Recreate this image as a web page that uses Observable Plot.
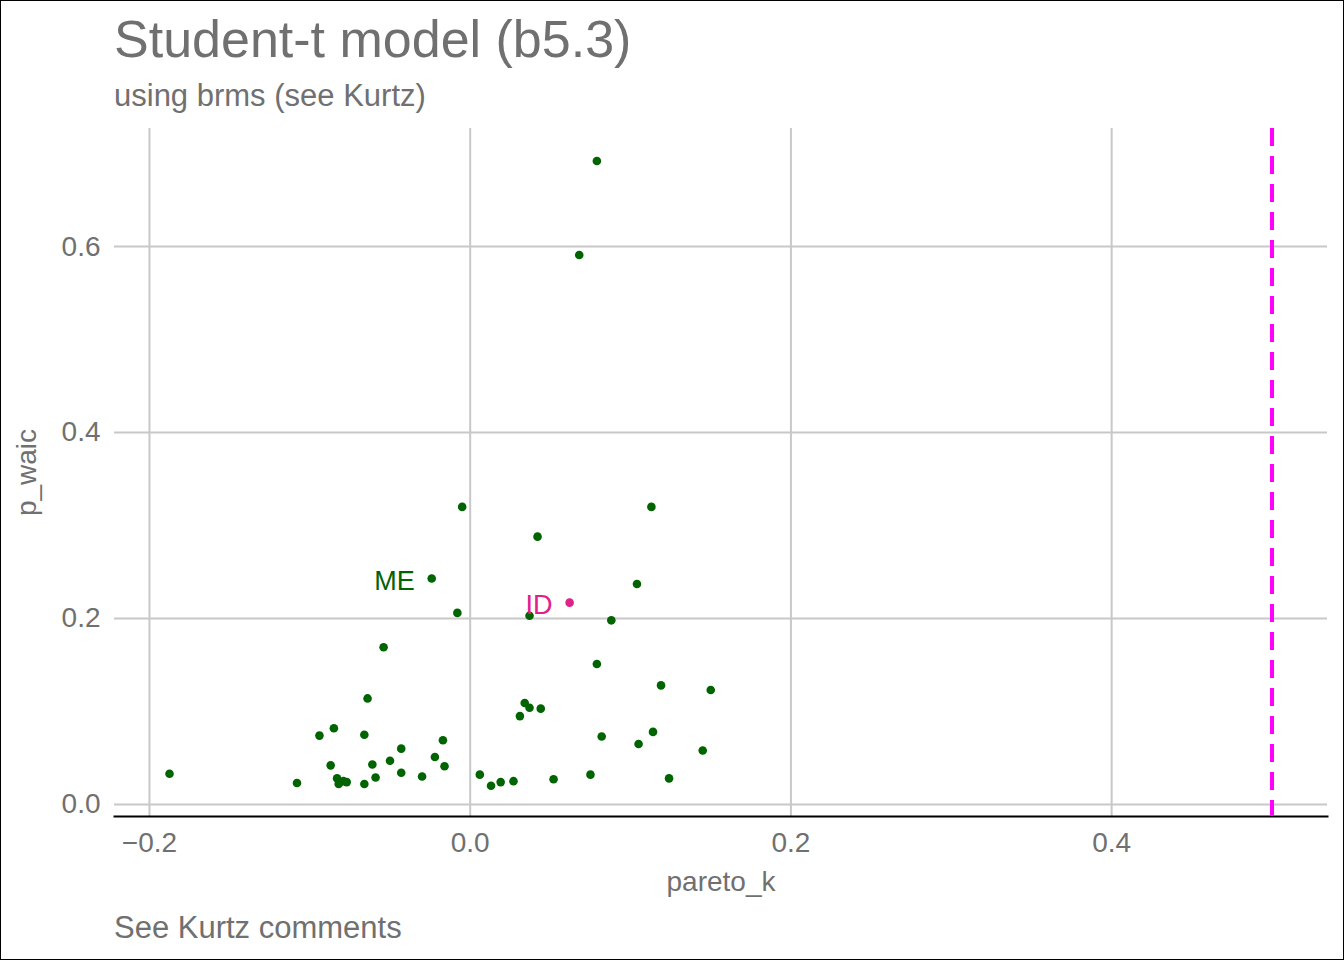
<!DOCTYPE html>
<html><head><meta charset="utf-8">
<script src="https://cdn.jsdelivr.net/npm/d3@7"></script>
<script src="https://cdn.jsdelivr.net/npm/@observablehq/plot@0.6"></script>
<style>
body{margin:0;background:#fff;font-family:"Liberation Sans",Arial,sans-serif;}
#wrap{width:1342px;height:958px;border:1px solid #000;position:relative;overflow:hidden;}
#title{position:absolute;left:113px;top:8px;font-size:52px;color:#707070;}
#sub{position:absolute;left:113px;top:77px;font-size:31px;color:#707070;}
#chart{position:absolute;left:0;top:120px;}
#cap{position:absolute;left:113px;top:909px;font-size:31px;color:#707070;}
</style></head><body>
<div id="wrap">
<div id="title">Student-t model (b5.3)</div>
<div id="sub">using brms (see Kurtz)</div>
<div id="chart"></div>
<div id="cap">See Kurtz comments</div>
</div>
<script>
const states = ["s1","s2","s3","s4","s5","s6","s7","s8","s9","s10","s11","s12","s13","s14","s15","s16","s17","s18","s19","ME","s21","s22","s23","s24","s25","s26","s27","s28","s29","s30","s31","s32","s33","s34","s35","s36","ID","s38","s39","s40","s41","s42","s43","s44","s45","s46","s47","s48","s49","s50","s51"];
const paretoK = [-0.1875,-0.108,-0.094,-0.087,-0.085,-0.083,-0.082,-0.079,-0.077,-0.066,-0.066,-0.064,-0.061,-0.059,-0.054,-0.050,-0.043,-0.043,-0.030,-0.024,-0.022,-0.017,-0.016,-0.008,-0.005,0.006,0.013,0.019,0.027,0.031,0.034,0.037,0.037,0.042,0.044,0.052,0.062,0.068,0.075,0.079,0.079,0.082,0.088,0.104,0.105,0.113,0.114,0.119,0.124,0.145,0.150];
const pWaic = [0.033,0.023,0.074,0.042,0.082,0.028,0.022,0.025,0.024,0.022,0.075,0.114,0.043,0.029,0.169,0.047,0.060,0.034,0.030,0.243,0.051,0.069,0.041,0.206,0.320,0.032,0.020,0.024,0.025,0.095,0.109,0.104,0.203,0.288,0.103,0.027,0.217,0.591,0.032,0.692,0.151,0.073,0.198,0.237,0.065,0.320,0.078,0.128,0.028,0.058,0.123];
const labelled = ["ME","ID"];
const threshold = [0.5];
const xTicks = [-0.2,0,0.2,0.4];
const yTicks = [0,0.2,0.4,0.6];

const data = states.map((s,i)=>({state:s,k:paretoK[i],p:pWaic[i]}));
const col = d => d.state==="ID" ? "#e0218a" : "#006400";
const fmt = d3.format(".1f");

const chart = Plot.plot({
  width:1342, height:780,
  marginLeft:113, marginRight:16, marginTop:7, marginBottom:85,
  style:{fontFamily:"Liberation Sans, Arial, sans-serif", fontSize:"28px", color:"#707070"},
  x:{domain:[-0.2218,0.5346], ticks:xTicks, tickFormat:fmt, tickSize:0, tickPadding:16, label:"pareto_k", labelAnchor:"center", labelArrow:"none", labelOffset:74},
  y:{domain:[-0.013,0.727], ticks:yTicks, tickFormat:fmt, tickSize:0, tickPadding:14, label:"p_waic", labelAnchor:"center", labelArrow:"none", labelOffset:98},
  marks:[
    Plot.gridX(xTicks,{stroke:"#c8c8c8",strokeOpacity:1,strokeWidth:2}),
    Plot.gridY(yTicks,{stroke:"#c8c8c8",strokeOpacity:1,strokeWidth:2}),
    Plot.frame({anchor:"bottom",stroke:"#000",strokeWidth:2}),
    Plot.ruleX(threshold,{stroke:"#ff00ff",strokeWidth:4,strokeDasharray:"18,10"}),
    Plot.dot(data,{x:"k",y:"p",r:4.3,fill:col,stroke:null}),
    Plot.text(data.filter(d=>labelled.includes(d.state)),{x:"k",y:"p",text:"state",fill:col,fontSize:27,textAnchor:"end",dx:-17,dy:3})
  ]
});
document.getElementById("chart").append(chart);
</script>
</body></html>
